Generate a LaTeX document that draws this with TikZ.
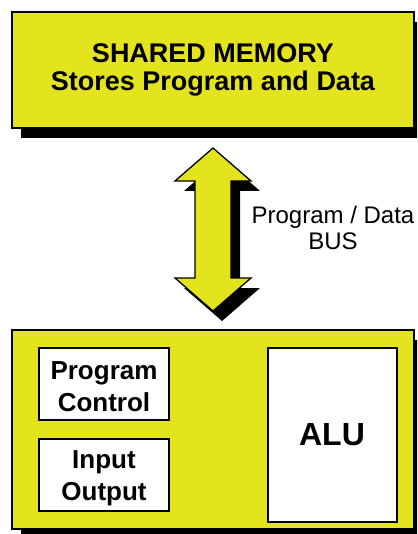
\documentclass[tikz,border=0pt]{standalone}
\usepackage{fontspec}
\setmainfont{Liberation Sans}
\definecolor{boxyellow}{RGB}{228,228,30}
\begin{document}
\begin{tikzpicture}[x=1pt,y=-1pt,
  shadowbox/.style={fill=black,draw=none},
  yellowbox/.style={fill=boxyellow,draw=black,line width=1.3pt},
  whitebox/.style={fill=white,draw=black,line width=1.3pt},
  boldtext/.style={font=\bfseries\fontsize{26}{32}\selectfont,align=center,inner sep=0pt},
  bustext/.style={font=\fontsize{24}{26}\selectfont,align=center,inner sep=0pt}]
\useasboundingbox (0,0) rectangle (417,534);
\clip (0,0) rectangle (417,534);
\fill[white] (0,0) rectangle (417,534);
% shared memory box
\fill[shadowbox] (21,22) rectangle (423,138);
\draw[yellowbox] (12,12) rectangle (414,128);
\node[boldtext,font=\bfseries\fontsize{27}{28}\selectfont] (mem) at (213,70) {SHARED MEMORY\\Stores Program and Data};
% bus arrow
\fill[shadowbox,shift={(9,10)}] (213,148) -- (175,181) -- (195,181) -- (195,278) -- (175,278) -- (213,311) -- (251,278) -- (231,278) -- (231,181) -- (251,181) -- cycle;
\draw[fill=boxyellow,draw=black,line width=1.3pt,line join=miter] (213,148) -- (175,181) -- (195,181) -- (195,278) -- (175,278) -- (213,311) -- (251,278) -- (231,278) -- (231,181) -- (251,181) -- cycle;
\coordinate (bus) at (213,229);
\node[bustext] (buslabel) at (333,228.4) {Program / Data\\BUS};
% cpu box
\fill[shadowbox] (21,340) rectangle (423,539);
\draw[yellowbox] (12,330) rectangle (414,529);
\draw[whitebox] (39,348) rectangle (169,420);
\node[boldtext] (pc) at (104,386.5) {Program\\Control};
\draw[whitebox] (39,439) rectangle (169,511);
\node[boldtext] (io) at (104,478.5) {Input\\Output};
\draw[whitebox] (268,348) rectangle (397,522);
\node[boldtext,font=\bfseries\fontsize{32}{36}\selectfont,anchor=base] (alu) at (332,445) {ALU};
\end{tikzpicture}
\end{document}
